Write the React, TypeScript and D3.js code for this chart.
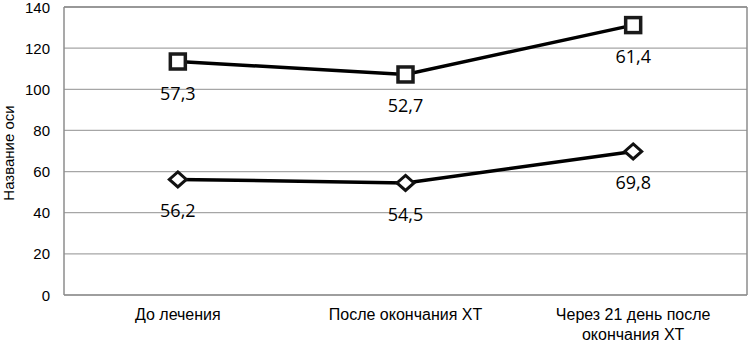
import React from "react";
import * as d3 from "d3";

const categories: string[][] = [
  ["До лечения"],
  ["После окончания ХТ"],
  ["Через 21 день после", "окончания ХТ"],
];
const seriesLower: number[] = [56.2, 54.5, 69.8];
const seriesUpperIncrement: number[] = [57.3, 52.7, 61.4];
const yTicks: number[] = [0, 20, 40, 60, 80, 100, 120, 140];
const yTitle = "Название оси";

const W = 750;
const H = 342;
const left = 64;
const right = 747;
const top = 7;
const bottom = 295;

export default function App() {
  const x = d3
    .scaleBand<number>()
    .domain(categories.map((_, i) => i))
    .range([left, right]);
  const cx = (i: number) => (x(i) as number) + x.bandwidth() / 2;
  const y = d3.scaleLinear().domain([0, 140]).range([bottom, top]);

  const upper = seriesLower.map((v, i) => v + seriesUpperIncrement[i]);
  const line = d3
    .line<number>()
    .x((_, i) => cx(i))
    .y((d) => y(d));

  const fmt = (v: number) => v.toFixed(1).replace(".", ",");
  const axisFont = "'Liberation Sans', Arial, sans-serif";
  const labelFont = "'Open Sans', sans-serif";

  return (
    <svg
      width={W}
      height={H}
      style={{ position: "absolute", left: 0, top: 0, background: "#fff" }}
    >
      {yTicks.map((t) => (
        <line
          key={t}
          x1={left}
          x2={right}
          y1={y(t)}
          y2={y(t)}
          stroke={t === 140 ? "#333" : "#a6a6a6"}
          strokeWidth={1.2}
        />
      ))}
      <line x1={left} x2={left} y1={top} y2={bottom} stroke="#8c8c8c" strokeWidth={1.5} />
      <line x1={right} x2={right} y1={top} y2={bottom} stroke="#8c8c8c" strokeWidth={1.5} />
      <line x1={left} x2={right} y1={bottom} y2={bottom} stroke="#8c8c8c" strokeWidth={1.5} />

      {yTicks.map((t) => (
        <text
          key={"t" + t}
          x={50}
          y={y(t)}
          textAnchor="end"
          dominantBaseline="central"
          fontFamily={axisFont}
          fontSize={15}
          fill="#000"
        >
          {t}
        </text>
      ))}
      <text
        transform={`translate(14,${(top + bottom) / 2 + 2}) rotate(-90)`}
        textAnchor="middle"
        fontFamily={axisFont}
        fontSize={15}
        fill="#000"
      >
        {yTitle}
      </text>

      {categories.map((lines, i) =>
        lines.map((l, j) => (
          <text
            key={`c${i}-${j}`}
            x={cx(i)}
            y={320 + j * 19.5}
            textAnchor="middle"
            fontFamily={axisFont}
            fontSize={16}
            fill="#000"
          >
            {l}
          </text>
        ))
      )}

      <path d={line(seriesLower) || ""} fill="none" stroke="#000" strokeWidth={3.5} />
      <path d={line(upper) || ""} fill="none" stroke="#000" strokeWidth={3.5} />

      {seriesLower.map((v, i) => (
        <path
          key={"d" + i}
          d={`M${cx(i)},${y(v) - 7.5} L${cx(i) + 8.5},${y(v)} L${cx(i)},${y(v) + 7.5} L${cx(i) - 8.5},${y(v)} Z`}
          fill="#fff"
          stroke="#111"
          strokeWidth={3}
        />
      ))}
      {upper.map((v, i) => (
        <rect
          key={"s" + i}
          x={cx(i) - 7.5}
          y={y(v) - 7.5}
          width={15}
          height={15}
          fill="#fff"
          stroke="#1a1a1a"
          strokeWidth={3.5}
        />
      ))}

      {seriesLower.map((v, i) => (
        <text
          key={"ld" + i}
          x={cx(i)}
          y={y(v) + 38}
          textAnchor="middle"
          fontFamily={labelFont}
          fontSize={18}
          fill="#000"
        >
          {fmt(v)}
        </text>
      ))}
      {upper.map((v, i) => (
        <text
          key={"lu" + i}
          x={cx(i)}
          y={y(v) + 38}
          textAnchor="middle"
          fontFamily={labelFont}
          fontSize={18}
          fill="#000"
        >
          {fmt(seriesUpperIncrement[i])}
        </text>
      ))}
    </svg>
  );
}
